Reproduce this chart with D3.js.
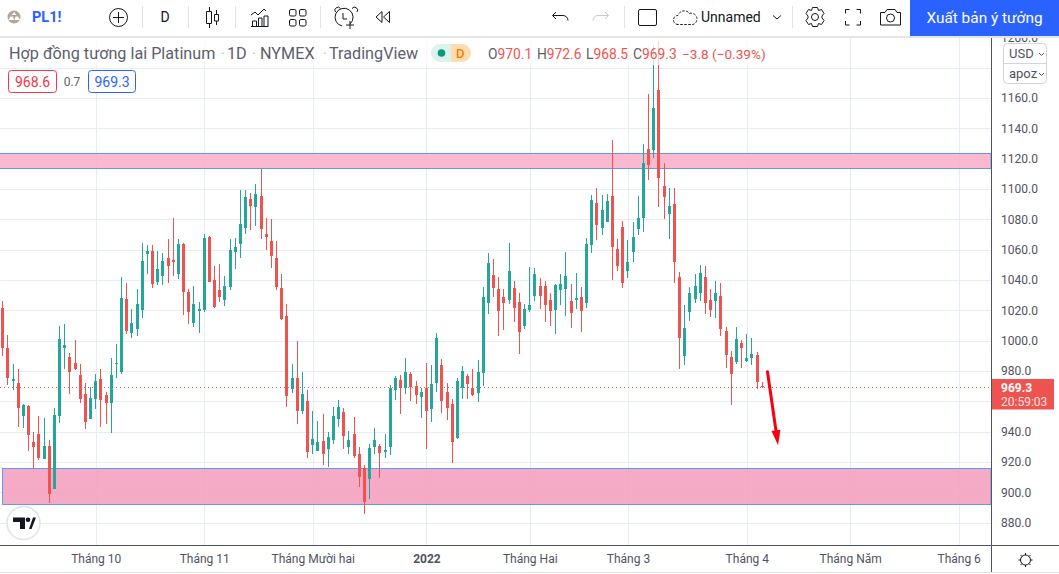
<!DOCTYPE html>
<html lang="vi">
<head>
<meta charset="utf-8">
<title>PL1! Platinum</title>
<script src="https://cdn.jsdelivr.net/npm/d3@7/dist/d3.min.js"></script>
<style>
  html, body { margin: 0; padding: 0; background: #fff; overflow: hidden; }
  svg { display: block; font-family: Roboto, "Liberation Sans", sans-serif; }
  .grid line { stroke: #e6edf4; stroke-width: 1; shape-rendering: crispEdges; }
  .grid .domain { display: none; }
  .axis .domain, .axis line { display: none; }
  .axis text { fill: #50535e; font-size: 12px; font-family: Roboto, "Liberation Sans", sans-serif; }
  .icon { fill: none; stroke: #131722; stroke-width: 1; }
</style>
</head>
<body>
<div id="chart"></div>
<script>
// Daily OHLC for the PL1! platinum future, oldest session first.
const opens = [
  1021.5,995,973.3,972,950.2,956.8,933,938.4,921.9,930.4,
  902.1,950.2,995.1,989.2,985.2,977.3,964.8,948.3,961.5,974.7,
  964.1,958.8,984.6,979.3,1027.5,1005,1007.7,1020.2,1057.2,1059.2,
  1038.7,1042.7,1054.6,1053.3,1044,1063.8,1032.1,1011.7,1019.6,1020.2,
  1068.4,1040,1033.5,1026.9,1035.4,1058.5,1063.8,1074.4,1093.5,1088.2,
  1095.5,1070.4,1065.8,1054.6,1034.8,1016.3,968.1,975.4,953.6,960.2,
  931.2,927.2,933.8,928.5,934.5,948.3,952.9,929.8,938.4,925.2,
  916,908.7,929.8,930.5,926.5,929.8,967.5,974,968.8,978,
  970.1,962.8,968.8,954.9,972,984,966.1,958.2,935.8,968.8,
  976.7,968.8,965.5,978.7,1024.9,1043.4,1034.1,1028.8,1026.8,1034.8,
  1025.5,1009.7,1020.2,1029.5,1036,1036,1026.8,1020.2,1033.5,1034.1,
  1026.2,1026.8,1028.8,1024.9,1063.2,1090.9,1074.4,1078.3,1095.5,1060.5,
  1075,1046,1058.5,1073.7,1080.9,1126.5,1125.9,1165.5,1102.1,1083.6,
  1090.2,1042,989.9,1019,1027.5,1031.5,1042,1026.9,1026.2,1029.5,
  1006.4,989.2,985.9,998.5,986.6,988.6,990.6,970.1
];
const highs = [
  1026,1003.7,984.6,981.3,958.2,957.5,939.7,950.2,948.9,934.4,
  955.5,1009.6,1011,991.8,1000.4,984.6,972,969.4,978,981.3,
  966,988.5,997.8,1042,1038,1020.9,1034,1064.5,1063.2,1063.2,
  1059.2,1057.9,1067.1,1081,1067.1,1064.5,1034,1036,1025.5,1070.4,
  1069,1049.3,1050.6,1042.7,1067.1,1067.8,1099.5,1099.5,1097.5,1103.4,
  1113.3,1081,1080.3,1065.8,1044,1024.2,984.6,999.8,979.3,967.5,
  953.6,947,951.6,939.7,956.2,960.8,955.6,940.4,949.6,929.8,
  917.9,931.8,942.4,931.8,938.4,970.8,976.7,977.4,988.6,979.3,
  973.4,968.8,985.3,983.9,1005,987.9,972,961.5,975.4,983.3,
  978,981.3,987.2,1035.4,1057.9,1053.9,1042,1034.1,1064.5,1039.4,
  1031.5,1024.2,1048.6,1048,1041.4,1039.4,1031.5,1037.4,1044,1058.5,
  1037.4,1044.7,1035.4,1067.8,1096.1,1100.8,1096.1,1096.8,1132.5,1067.1,
  1079,1066.5,1078.3,1095.5,1129.8,1162.8,1194,1197.4,1117.3,1100.8,
  1100.8,1045.3,1023.6,1035.4,1044,1050,1049.3,1034.1,1039.4,1038.1,
  1009,993.2,1009,1000.5,1004.4,1001.8,992.5,972.6
];
const lows = [
  990,970.7,967.4,943,942.3,927.1,915.3,921.2,921.9,892.8,
  902,945.6,981.3,964.8,980.5,958.8,941.7,948.3,954.9,943,
  945,939,975.3,978,1004.4,1001.8,1003.1,1015,1044,1034.8,
  1036.8,1036.8,1038.1,1042.7,1040.7,1017,1011,1009,1005,1018.9,
  1038.7,1021.6,1025.5,1022.9,1033.5,1047.3,1054.6,1070.4,1073,1075.7,
  1067.1,1059.8,1048,1033.5,1013.6,956.2,965.5,945,951.6,922.6,
  925.2,927,918,916.6,931.8,943,928.5,925.2,922.6,903.4,
  885.6,895.5,925.2,909.4,922.6,924.5,960.8,951.6,964.8,960.2,
  958.2,949,928.5,946.3,966.1,952.3,947.6,919.3,935.1,961.5,
  961.5,963.5,959.5,970.1,1017.6,1028.8,1003.1,1007,1024.2,1012.3,
  991.2,1007.7,1018.9,1026.2,1020.9,1012.3,1009.7,1004.4,1023.5,1016.3,
  1008.4,1020.9,1005.7,1021.6,1057.9,1066.5,1069.8,1078.3,1040,1046,
  1034.8,1041.4,1051.9,1069.8,1071.7,1106,1120.6,1088.2,1080.3,1067.1,
  1038.1,981.3,984,1013,1024.9,1026.2,1017.6,1015.6,1015,1003.1,
  982,957.5,984.6,982,986,984,968.1,968.5
];
const closes = [
  995.1,975.3,974.7,955.5,957.5,937.7,929.8,922.5,930.4,898.8,
  950.9,1001,997.1,979.3,981.3,961.5,946.3,962.1,973.3,960.8,
  958.8,977.3,985.2,1028.1,1006.4,1011.7,1024.2,1052.6,1059.2,1037.4,
  1047.3,1052.6,1049.3,1051.9,1063.8,1032.1,1018.9,1024.2,1020.9,1067.8,
  1038.7,1022.2,1028.8,1036,1059.8,1061.8,1077,1094.8,1088.9,1096.8,
  1073.7,1068.4,1055.9,1035.4,1014.3,963.5,975.4,953.6,964.8,926.5,
  935.1,933.1,925.2,936.4,950.3,956.2,937.1,934.5,923.9,910,
  893.5,929.2,934.5,925.9,927.9,968.8,975.4,968.8,979.3,969.4,
  964.2,966.1,953.6,971.4,1001.8,960.2,955.6,933.1,973.4,980,
  971.4,964.2,979.3,1028.8,1051.3,1034.8,1019.6,1024.9,1046,1021.6,
  1005.7,1020.9,1023.5,1044,1029.5,1023.5,1019.6,1036.8,1037.4,1042.7,
  1018.3,1028.2,1019.6,1063.8,1092.9,1076.4,1086.2,1092.2,1061.8,1049.3,
  1038,1051.9,1068.4,1080.9,1117.3,1116,1153.6,1107.4,1094.8,1088.9,
  1051.9,1001.8,1008.4,1031.5,1036,1044.7,1024.9,1020.2,1031.5,1007.7,
  990.6,978,1001.1,995.2,988.6,991.2,972.7,969.3
];

// Axis ticks: session index of each month start, and its label.
const timeTickIndex = [18, 39, 60, 82, 102, 121, 144, 164, 185];
const timeTickLabels = ["Tháng 10", "Tháng 11", "Tháng Mười hai", "2022", "Tháng Hai", "Tháng 3", "Tháng 4", "Tháng Năm", "Tháng 6"];
const priceTicks = [880, 900, 920, 940, 960, 980, 1000, 1020, 1040, 1060, 1080, 1100, 1120, 1140, 1160, 1180, 1200];
// 960 sits under the last-price tag and 1180 under the currency pills, so neither is labelled.
const priceLabels = [880, 900, 920, 940, 980, 1000, 1020, 1040, 1060, 1080, 1100, 1120, 1140, 1160, 1200];

// Drawn objects on the chart: two price zones and a projected move.
const resistanceZone = [1113.6, 1123.9];
const supportZone = [892, 915.8];
const arrowFrom = [148, 979.4];
const arrowTo = [150.05, 931];
const lastPrice = 969.3;

const W = 1059, H = 574;
const plotRight = 991, plotBottom = 545, plotTop = 37;
const UP = "#26a69a", DOWN = "#ef5350";

const x = d3.scaleLinear().domain([0, 147]).range([2.7, 762.3]);
const y = d3.scaleLinear().domain([880, 1160]).range([522.5, 98]);

const svg = d3.select("#chart").append("svg").attr("width", W).attr("height", H);

// Grid
svg.append("g").attr("class", "grid").attr("transform", `translate(0,${plotBottom})`)
  .call(d3.axisBottom(x).tickValues(timeTickIndex).tickSize(-(plotBottom - plotTop)).tickFormat(""));
svg.append("g").attr("class", "grid").attr("transform", `translate(${plotRight},0)`)
  .call(d3.axisLeft(y).tickValues(priceTicks).tickSize(plotRight).tickFormat(""));

// Price zones sit over the grid and under the candles
function zone(range, x0, fill) {
  const [lo, hi] = range;
  svg.append("rect")
    .attr("x", x0 + .5).attr("y", Math.round(y(hi)) + .5)
    .attr("width", plotRight - x0 - .5).attr("height", Math.round(y(lo)) - Math.round(y(hi)))
    .attr("fill", fill).attr("fill-opacity", .88)
    .attr("stroke", "#5b9cf6").attr("stroke-width", 1);
}
zone(resistanceZone, -2, "#fbafc9");
zone(supportZone, 2, "#f49fbe");

// Last-price line
svg.append("line")
  .attr("x1", 0).attr("x2", plotRight)
  .attr("y1", Math.round(y(lastPrice)) + .5).attr("y2", Math.round(y(lastPrice)) + .5)
  .attr("stroke", DOWN).attr("stroke-width", 1).attr("stroke-dasharray", "1 3");

// Candles
const candles = d3.range(opens.length);
const snap = i => Math.round(x(i) - .5) + .5;
const g = svg.append("g").attr("shape-rendering", "crispEdges");
g.selectAll("line.wick").data(candles).join("line")
  .attr("class", "wick")
  .attr("x1", snap).attr("x2", snap)
  .attr("y1", i => y(highs[i])).attr("y2", i => y(lows[i]))
  .attr("stroke", i => closes[i] >= opens[i] ? UP : DOWN);
g.selectAll("rect.body").data(candles).join("rect")
  .attr("class", "body")
  .attr("x", i => snap(i) - 1.5).attr("width", 3)
  .attr("y", i => y(Math.max(opens[i], closes[i])))
  .attr("height", i => Math.max(1, Math.abs(y(opens[i]) - y(closes[i]))))
  .attr("fill", i => closes[i] >= opens[i] ? UP : DOWN);

// Projected-move arrow
const ax0 = x(arrowFrom[0]), ay0 = y(arrowFrom[1]), ax1 = x(arrowTo[0]), ay1 = y(arrowTo[1]);
const len = Math.hypot(ax1 - ax0, ay1 - ay0), ux = (ax1 - ax0) / len, uy = (ay1 - ay0) / len;
const bx = ax1 - ux * 15, by = ay1 - uy * 15;
svg.append("line").attr("x1", ax0).attr("y1", ay0).attr("x2", bx).attr("y2", by)
  .attr("stroke", "#f7000f").attr("stroke-width", 3).attr("stroke-linecap", "round");
svg.append("path")
  .attr("d", `M${ax1},${ay1}L${bx - uy * 4.5},${by + ux * 4.5}L${bx + uy * 4.5},${by - ux * 4.5}Z`)
  .attr("fill", "#f7000f");

// TradingView badge
const badge = svg.append("g");
badge.append("circle").attr("cx", 23.5).attr("cy", 523).attr("r", 16.5).attr("fill", "#fff").attr("stroke", "#e0e3eb").attr("stroke-width", 1.5);
badge.append("path").attr("fill", "#131722").attr("d", "M13 517.5h12v11.5h-5v-7h-7zM29 529l4-11.5h3l-4.5 11.5z");
badge.append("circle").attr("cx", 28).attr("cy", 519.8).attr("r", 2.3).attr("fill", "#131722");

// Panels around the plot
svg.append("rect").attr("x", plotRight).attr("y", plotTop).attr("width", W - plotRight).attr("height", H - plotTop).attr("fill", "#fff");
svg.append("rect").attr("x", 0).attr("y", plotBottom).attr("width", W).attr("height", H - plotBottom).attr("fill", "#fff");

// Price axis
svg.append("g").attr("class", "axis").attr("transform", `translate(${plotRight + 10},0)`)
  .call(d3.axisRight(y).tickValues(priceLabels).tickSize(0).tickPadding(0).tickFormat(d => d.toFixed(1)));

// Time axis
const timeAxis = svg.append("g").attr("class", "axis").attr("transform", `translate(0,${plotBottom + 9})`)
  .call(d3.axisBottom(x).tickValues(timeTickIndex).tickSize(0).tickPadding(0)
    .tickFormat((d, i) => timeTickLabels[i]));
timeAxis.selectAll("text").attr("dy", "0.71em")
  .style("font-weight", (d, i) => timeTickLabels[i] === "2022" ? 700 : 400);

// Axis borders
svg.append("line").attr("x1", plotRight + .5).attr("x2", plotRight + .5).attr("y1", plotTop).attr("y2", H - 1).attr("stroke", "#50535e");
svg.append("line").attr("x1", 0).attr("x2", W).attr("y1", plotBottom + .5).attr("y2", plotBottom + .5).attr("stroke", "#50535e");
svg.append("line").attr("x1", 0).attr("x2", W).attr("y1", H - 1.5).attr("y2", H - 1.5).attr("stroke", "#e0e3eb");

// Last-price tag
svg.append("path").attr("d", `M${plotRight + 1},379h62v30.5h-62z`).attr("fill", DOWN);
svg.append("text").attr("x", 1001).attr("y", 392).attr("fill", "#fff").attr("font-size", 12).attr("font-weight", 700).text(lastPrice.toFixed(1));
svg.append("text").attr("x", 1001).attr("y", 406).attr("fill", "#fff").attr("fill-opacity", .85).attr("font-size", 12).text("20:59:03");

// Currency and unit pills
const pill = svg.append("g");
pill.append("rect").attr("x", 1003.5).attr("y", 43.5).attr("width", 43).attr("height", 40).attr("rx", 4).attr("fill", "#fff").attr("stroke", "#d1d4dc");
pill.append("line").attr("x1", 1003.5).attr("x2", 1046.5).attr("y1", 63.5).attr("y2", 63.5).attr("stroke", "#d1d4dc");
pill.append("text").attr("x", 1009).attr("y", 58).attr("font-size", 13).attr("fill", "#50535e").text("USD");
pill.append("text").attr("x", 1009).attr("y", 78).attr("font-size", 13).attr("fill", "#50535e").text("apoz");
pill.selectAll("path").data([53, 73]).join("path")
  .attr("d", d => `M1039,${d}l2.5,2.5l2.5,-2.5`).attr("fill", "none").attr("stroke", "#50535e");

// Legend block: a veil softens whatever runs behind the header
svg.append("rect").attr("x", 0).attr("y", plotTop).attr("width", 775).attr("height", 28).attr("fill", "#fff").attr("fill-opacity", .72);
const titleParts = [["Hợp đồng tương lai Platinum", 9], ["1D", 227], ["NYMEX", 260], ["TradingView", 329]];
const titleDots = [221, 252, 323];
titleParts.forEach(([label, px]) => {
  svg.append("text").attr("x", px).attr("y", 58.5).attr("font-size", 16.2).attr("fill", "#5d606b").text(label);
});
titleDots.forEach(px => {
  svg.append("text").attr("x", px).attr("y", 58.5).attr("font-size", 14).attr("fill", "#b2b5be").text("·");
});
svg.append("path").attr("d", "M440,44h11v18h-11a9,9 0 0 1 0,-18z").attr("fill", "#dcf2ed");
svg.append("path").attr("d", "M451,44h11a9,9 0 0 1 0,18h-11z").attr("fill", "#fdddb0");
svg.append("circle").attr("cx", 441.5).attr("cy", 53).attr("r", 3.8).attr("fill", "#089981");
svg.append("text").attr("x", 456).attr("y", 58).attr("font-size", 13).attr("font-weight", 500).attr("fill", "#f57c00").text("D");

const legendItems = [["O", "970.1", 488], ["H", "972.6", 537], ["L", "968.5", 586], ["C", "969.3", 633]];
legendItems.forEach(([k, v, px]) => {
  const t = svg.append("text").attr("x", px).attr("y", 59).attr("font-size", 13.8);
  t.append("tspan").attr("fill", "#5d606b").text(k);
  t.append("tspan").attr("fill", DOWN).text(v);
});
svg.append("text").attr("x", 682).attr("y", 59).attr("font-size", 13.6).attr("fill", DOWN).text("−3.8 (−0.39%)");

// Bid and ask boxes
svg.append("rect").attr("x", 8.5).attr("y", 70.5).attr("width", 48).attr("height", 22).attr("rx", 3).attr("fill", "#fff").attr("stroke", "#f23645");
svg.append("text").attr("x", 32.5).attr("y", 86.5).attr("text-anchor", "middle").attr("font-size", 14).attr("fill", "#f23645").text("968.6");
svg.append("text").attr("x", 72).attr("y", 86).attr("text-anchor", "middle").attr("font-size", 12).attr("fill", "#5d606b").text("0.7");
svg.append("rect").attr("x", 88.5).attr("y", 70.5).attr("width", 47).attr("height", 22).attr("rx", 3).attr("fill", "#fff").attr("stroke", "#2962ff");
svg.append("text").attr("x", 112).attr("y", 86.5).attr("text-anchor", "middle").attr("font-size", 14).attr("fill", "#2962ff").text("969.3");

// Top toolbar
const bar = svg.append("g");
bar.append("rect").attr("width", W).attr("height", 36).attr("fill", "#fff");
bar.append("rect").attr("y", 36).attr("width", W).attr("height", 2).attr("fill", "#e4e6ec");
bar.append("rect").attr("x", 910).attr("width", W - 910).attr("height", 36).attr("fill", "#2962ff");
bar.append("text").attr("x", 984.5).attr("y", 23).attr("text-anchor", "middle").attr("font-size", 15.4).attr("fill", "#fff").text("Xuất bản ý tưởng");

bar.selectAll("line.sep").data([142, 188, 235, 320, 624, 792]).join("line")
  .attr("class", "sep").attr("x1", d => d + .5).attr("x2", d => d + .5).attr("y1", 6).attr("y2", 28).attr("stroke", "#e0e3eb");

// Symbol
bar.append("circle").attr("cx", 14).attr("cy", 17).attr("r", 6.5).attr("fill", "#b5a597");
bar.append("path").attr("d", "M11.5,15l2.5,-3 2.5,3zM8.5,20l2,-3.5h2.5l1,3.5zM14.5,20l1,-3.5h2.5l2,3.5z").attr("fill", "#fff");
bar.append("text").attr("x", 32).attr("y", 21.5).attr("font-size", 14.5).attr("font-weight", 700).attr("fill", "#2962ff").text("PL1!");

// Toolbar glyphs
const icon = (d, stroke = "#131722") => bar.append("path").attr("d", d).attr("fill", "none").attr("stroke", stroke).attr("stroke-width", 1);
bar.append("circle").attr("class", "icon").attr("cx", 118.5).attr("cy", 17.5).attr("r", 9);
icon("M118.5,12v11M113,17.5h11");
bar.append("text").attr("x", 165).attr("y", 22).attr("text-anchor", "middle").attr("font-size", 14).attr("fill", "#131722").text("D");
icon("M209.5,7v4M209.5,24v4M206.5,11.5h5v12h-5zM216.5,10v4M216.5,21v4M214.5,14.5h4v6.5h-4z");
icon("M251,15l4,-3 3,3 6,-6 2,2M251,26.5h17.5M252.5,26v-5h4v5M258.5,26v-8h3.5v8M264,26v-10h4v10");
bar.selectAll("rect.layout").data([[289.5, 9.5], [299.5, 9.5], [289.5, 19.5], [299.5, 19.5]]).join("rect")
  .attr("class", "layout icon").attr("x", d => d[0]).attr("y", d => d[1]).attr("width", 6.5).attr("height", 6.5).attr("rx", 1.5);
icon("M350,24a9,9 0 1 0 -8,2M343,13v6h4M350,21v8M346,25h8M335.5,12a3,3 0 0 1 5,-3.5M352,8.5a3,3 0 0 1 5,3.5");
icon("M382,11.5l-6,5.5 6,5.5zM389.5,11.5l-6,5.5 6,5.500z");
icon("M556,12l-3.5,3.5 3.5,3.5M553,15.5h10a5,5 0 0 1 5,5");
icon("M605,12l3.5,3.5 -3.5,3.5M608,15.5h-10a5,5 0 0 0 -5,5", "#c6c8ce");
bar.append("rect").attr("x", 638.5).attr("y", 9.5).attr("width", 18).attr("height", 16).attr("rx", 1.5).attr("fill", "none").attr("stroke", "#131722");
icon("M678,24.5a4.5,4.5 0 0 1 0,-9a6.5,6.5 0 0 1 11.5,-2a5.500,5.500 0 0 1 3.500,11z").attr("stroke-dasharray", "2.5 1.5");
bar.append("text").attr("x", 701).attr("y", 22).attr("font-size", 14).attr("fill", "#131722").text("Unnamed");
icon("M773,15.5l4,3.5 4,-3.5");
bar.append("circle").attr("class", "icon").attr("cx", 815).attr("cy", 17).attr("r", 3.5);
icon("M812.5,7.5h5l1,3 3,-1 2.5,4 -2,2.5v2l2,2.5 -2.5,4 -3,-1 -1,3h-5l-1,-3 -3,1 -2.5,-4 2,-2.5v-2l-2,-2.5 2.5,-4 3,1z");
icon("M845.5,13.5v-4h4M856.5,9.5h4v4M860.5,21v4h-4M849.5,25h-4v-4");
icon("M880.5,12.5h4.5l2,-3h8l2,3h3.5v12.5h-20z");
bar.append("circle").attr("class", "icon").attr("cx", 890.5).attr("cy", 18).attr("r", 4);

// Time-axis settings gear
svg.append("circle").attr("class", "icon").attr("cx", 1025.5).attr("cy", 560).attr("r", 5);
svg.append("path").attr("class", "icon").attr("d", "M1025.5,553v2M1025.5,565v2M1018.5,560h2M1030.5,560h2M1020.5,555l1.5,1.5M1029,563.5l1.5,1.5M1030.5,555l-1.5,1.5M1022,563.5l-1.5,1.5");
</script>
</body>
</html>
